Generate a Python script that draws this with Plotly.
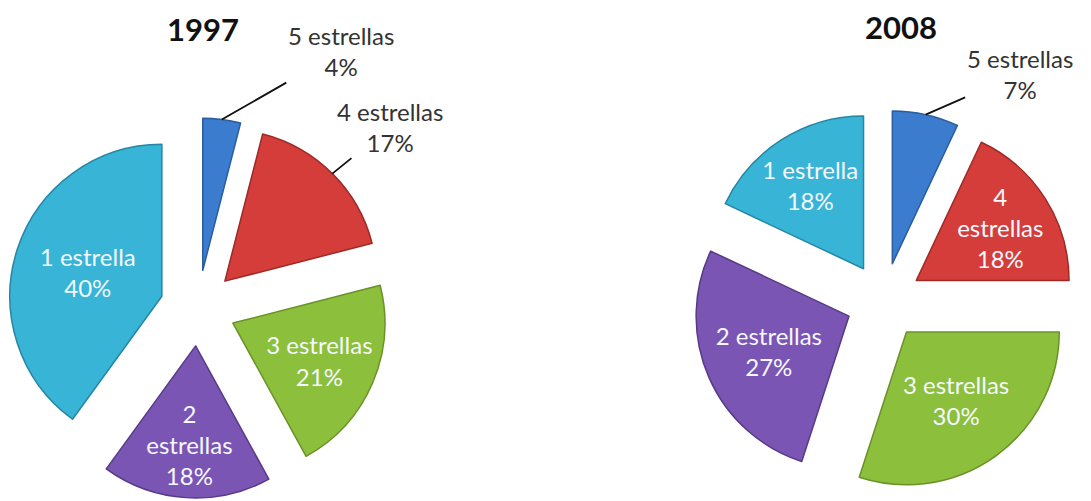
import math
import plotly.graph_objects as go

# ---- data ----
categories = ["5 estrellas", "4 estrellas", "3 estrellas", "2 estrellas", "1 estrella"]
display_1997 = ["5 estrellas", "4 estrellas", "3 estrellas", "2<br>estrellas", "1 estrella"]
display_2008 = ["5 estrellas", "4<br>estrellas", "3 estrellas", "2 estrellas", "1 estrella"]
values_1997 = [4, 17, 21, 18, 40]
values_2008 = [7, 18, 30, 27, 18]
years = ["1997", "2008"]

colors = ["#3B7CCF", "#D43D39", "#8CBF3B", "#7B55B4", "#37B4D6"]
line_colors = ["#2A5C9E", "#9E2A27", "#6A9128", "#573A86", "#2587A3"]

W, H = 1091, 501
FONT = "Lato, 'Open Sans', sans-serif"
PULL = 0.25

# pie geometry (pixels): centre and box size
pies = [
    dict(values=values_1997, text=display_1997, cx=190, cy=300, size=380,
         outside=[0, 1], title_xy=(195, 21),
         label_off={0: (119, -68), 1: (58, -47)}),
    dict(values=values_2008, text=display_2008, cx=876, cy=293, size=382,
         outside=[0], title_xy=(893, 19),
         label_off={0: (94, -41)}),
]


def dom(cx, cy, size):
    clamp = lambda v: min(1.0, max(0.0, v))
    return dict(x=[clamp((cx - size / 2) / W), clamp((cx + size / 2) / W)],
                y=[clamp((H - cy - size / 2) / H), clamp((H - cy + size / 2) / H)])


fig = go.Figure()

for i, p in enumerate(pies):
    vals = p["values"]
    total = sum(vals)
    pos = ["none" if k in p["outside"] else "inside" for k in range(len(vals))]
    fig.add_trace(go.Pie(
        labels=categories, values=vals, text=p["text"],
        texttemplate="%{text}<br>%{percent:.0%}",
        textposition=pos,
        insidetextorientation="horizontal",
        sort=False, direction="clockwise", rotation=0,
        pull=[PULL] * len(vals),
        marker=dict(colors=colors, line=dict(color=line_colors, width=1.5)),
        insidetextfont=dict(family=FONT, size=24, color="#F4F8FF"),
        domain=dom(p["cx"], p["cy"], p["size"]),
        hoverinfo="label+percent", showlegend=False,
    ))

    # labels with leader lines for the small slices, anchored at slice mid-angle
    r_out = p["size"] / 2  # = r * (1 + pull)
    cum = 0
    for k, v in enumerate(vals):
        a0 = cum / total * 360
        cum += v
        a1 = cum / total * 360
        if k in p["outside"]:
            mid = math.radians((a0 + a1) / 2)
            px = p["cx"] + r_out * math.sin(mid)
            py = p["cy"] - r_out * math.cos(mid)
            ax, ay = p["label_off"][k]
            fig.add_annotation(
                x=px / W, y=1 - py / H, xref="paper", yref="paper",
                text=f"{p['text'][k]}<br>{round(v / total * 100)}%",
                showarrow=True, arrowhead=0, arrowwidth=1.8, arrowcolor="#111111",
                ax=ax, ay=ay, standoff=0, startstandoff=0,
                font=dict(family=FONT, size=24, color="#333333"),
                align="center",
            )

    tx, ty = p["title_xy"]
    fig.add_annotation(text="<b>" + years[i] + "</b>", x=tx / W, y=1 - ty / H,
                       xref="paper", yref="paper", showarrow=False,
                       xanchor="center", yanchor="middle", borderpad=0,
                       font=dict(family=FONT, size=31, color="#111111"))

fig.update_layout(
    width=W, height=H,
    margin=dict(l=0, r=0, t=0, b=0),
    paper_bgcolor="white", plot_bgcolor="white",
    uniformtext=dict(minsize=24, mode="show"),
)

fig.write_html("out.html")
